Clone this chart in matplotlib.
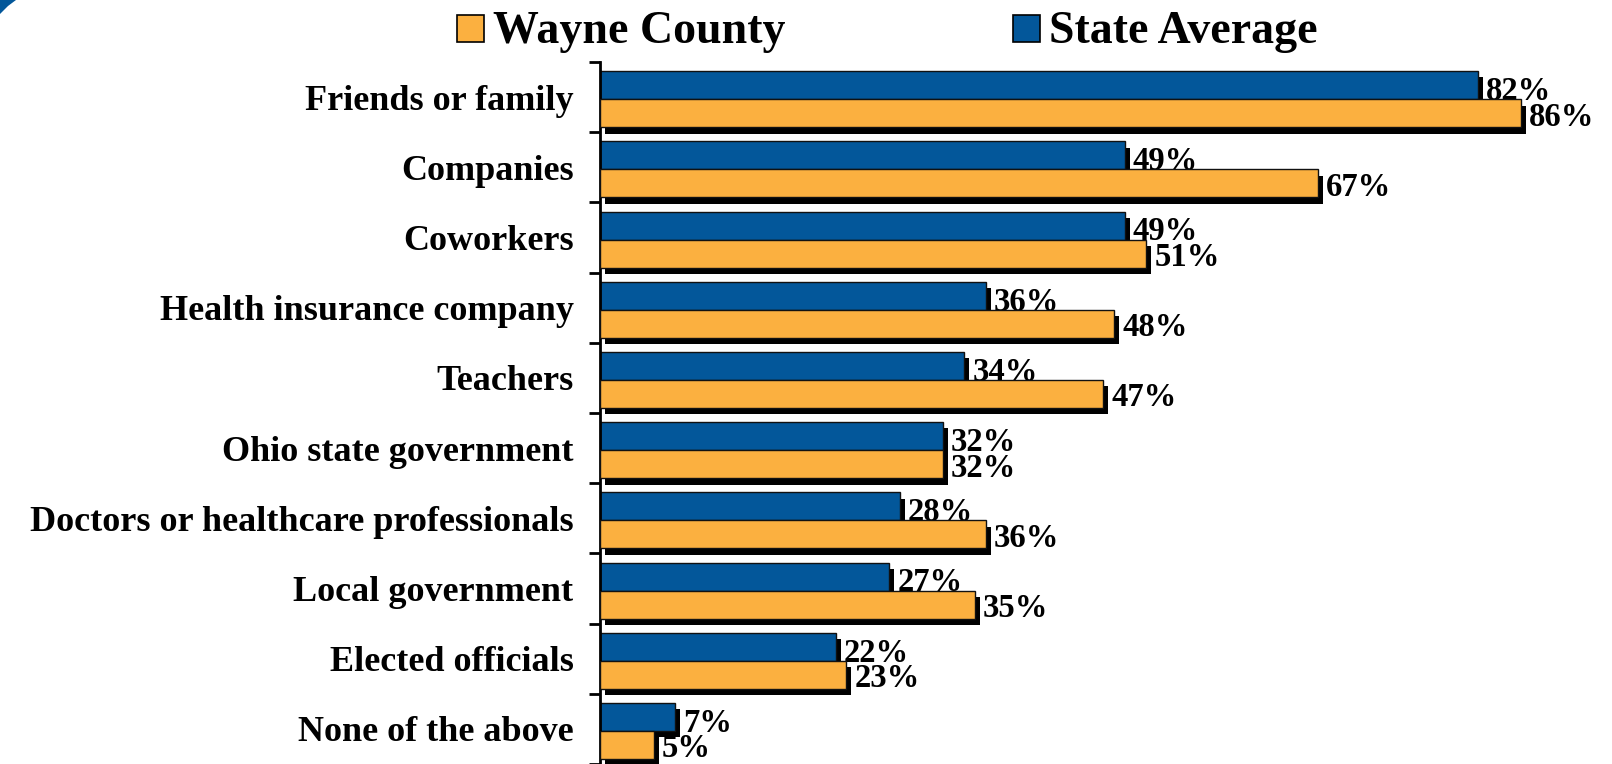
import matplotlib
matplotlib.use("Agg")
import matplotlib.pyplot as plt
from matplotlib.patches import Rectangle, Polygon
import numpy as np

categories = ["Friends or family", "Companies", "Coworkers", "Health insurance company",
              "Teachers", "Ohio state government", "Doctors or healthcare professionals",
              "Local government", "Elected officials", "None of the above"]
state_avg = [82, 49, 49, 36, 34, 32, 28, 27, 22, 7]
wayne = [86, 67, 51, 48, 47, 32, 36, 35, 23, 5]
series_names = ["Wayne County", "State Average"]

BLUE = "#03579A"
ORANGE = "#FBB040"
FONT = "Liberation Serif"

W, H = 1612, 764
fig = plt.figure(figsize=(W / 100, H / 100), dpi=100)
ax = fig.add_axes([600 / W, 0, 1 - 600 / W, 1 - 62 / H])

y = np.arange(len(categories))
h = 0.4
yb = y - 0.17
yo = y + 0.23
dx, dy = 0.47, 0.09

# shadows
ax.barh(yb + dy, state_avg, height=h, left=dx, color="black", zorder=1)
ax.barh(yo + dy, wayne, height=h, left=dx, color="black", zorder=1)
# bars
ax.barh(yb, state_avg, height=h, color=BLUE, edgecolor="#111111", linewidth=1, zorder=2)
ax.barh(yo, wayne, height=h, color=ORANGE, edgecolor="#111111", linewidth=1, zorder=3)

for yy, v in zip(yb, state_avg):
    ax.text(v + 0.75, yy + h / 2 + 0.01, f"{v}%", ha="left", va="baseline", fontsize=23.5,
            fontweight="bold", family=FONT, zorder=2.5)
for yy, v in zip(yo, wayne):
    ax.text(v + 0.75, yy + h / 2 - 0.025, f"{v}%", ha="left", va="baseline", fontsize=23.5,
            fontweight="bold", family=FONT, zorder=4)

ax.set_xlim(0, (W - 600) / 10.71)
ax.set_ylim(len(categories) - 0.5, -0.5)
for s in ["top", "right", "bottom"]:
    ax.spines[s].set_visible(False)
ax.spines["left"].set_linewidth(2)
ax.set_xticks([])
ax.set_yticks(y)
ax.set_yticklabels(categories, fontsize=26, fontweight="bold", family=FONT)
ax.tick_params(axis="y", which="major", length=0, pad=19)
ax.set_yticks(np.arange(len(categories) + 1) - 0.5, minor=True)
ax.tick_params(axis="y", which="minor", length=8, width=2, direction="out")

# legend
def fx(px):
    return px / W

def fy(py):
    return 1 - py / H

fig.patches.append(Rectangle((fx(457), fy(42)), 27 / W, 27 / H, transform=fig.transFigure,
                             facecolor=ORANGE, edgecolor="black", linewidth=1.2))
fig.text(fx(493), fy(43), series_names[0], fontsize=33, fontweight="bold", family=FONT,
         ha="left", va="baseline")
fig.patches.append(Rectangle((fx(1013), fy(42)), 27 / W, 27 / H, transform=fig.transFigure,
                             facecolor=BLUE, edgecolor="black", linewidth=1.2))
fig.text(fx(1049), fy(43), series_names[1], fontsize=33, fontweight="bold", family=FONT,
         ha="left", va="baseline")

# decorative corner swoosh
fig.patches.append(Polygon([(fx(0), fy(0)), (fx(16), fy(0)), (fx(8), fy(6)), (fx(0), fy(14))],
                           closed=True, transform=fig.transFigure, facecolor=BLUE,
                           edgecolor="none"))

fig.savefig("out.png", dpi=100)
